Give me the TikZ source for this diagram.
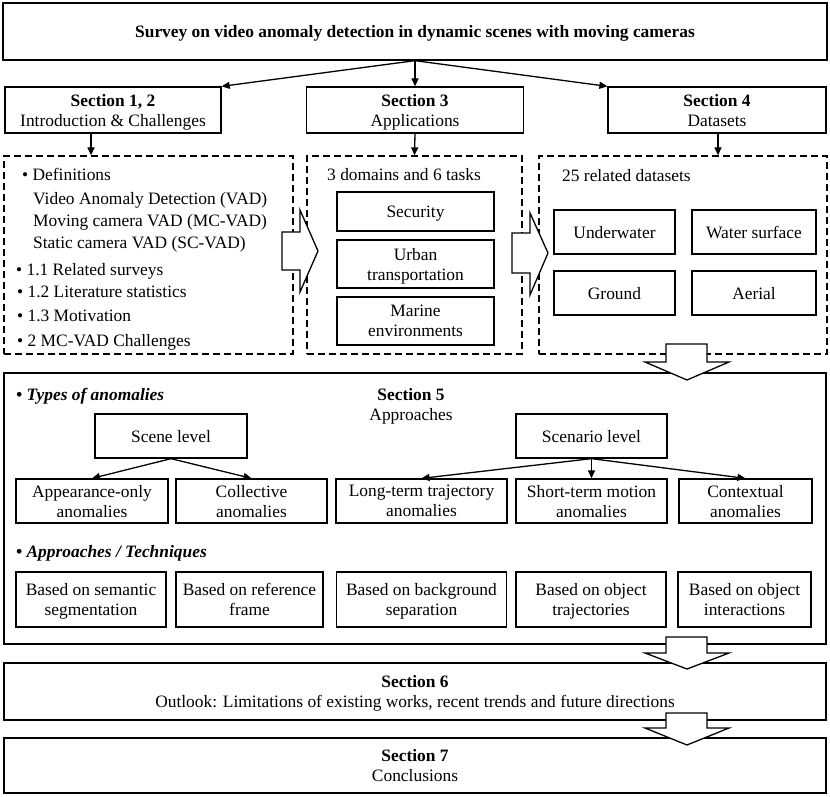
\documentclass[tikz,border=0pt]{standalone}
\usepackage{fontspec}
\setmainfont{Liberation Serif}
\usetikzlibrary{arrows.meta}
\begin{document}
\begin{tikzpicture}[x=1pt,y=-1pt,
  every node/.style={font=\fontsize{17.4}{20}\selectfont, inner sep=0pt, text depth=0pt},
  box/.style={draw, line width=1.3pt, align=center},
  dbox/.style={draw, line width=1.3pt, dash pattern=on 7pt off 4pt},
  arr/.style={line width=1.3pt, -{Triangle[length=8pt,width=7pt]}},
  barrow/.style={draw, fill=white, line width=1.3pt, line join=miter},
  txt/.style={anchor=west, align=left},
  head/.style={font=\fontsize{17.4}{20}\selectfont\bfseries\itshape, anchor=west}
]
\useasboundingbox (0,0) rectangle (830,797);

% top
\node[box, minimum width=824pt, minimum height=57pt] (top) at (415,31.5)
  {\textbf{Survey on video anomaly detection in dynamic scenes with moving cameras}};

\node[box, minimum width=216pt, minimum height=46pt] (s12) at (113,110)
  {\textbf{Section 1, 2}\\Introduction \& Challenges};
\node[box, minimum width=217pt, minimum height=46pt] (s3) at (415,110)
  {\textbf{Section 3}\\Applications};
\node[box, minimum width=218pt, minimum height=46pt] (s4) at (717,110)
  {\textbf{Section 4}\\Datasets};

\draw[arr] (top.south) -- (s12.north east);
\draw[arr] (top.south) -- (s3.north);
\draw[arr] (top.south) -- (s4.north west);

% dashed boxes
\node[dbox, minimum width=289pt, minimum height=198pt] (d1) at (148.5,255) {};
\node[dbox, minimum width=215pt, minimum height=198pt] (d2) at (414.5,255) {};
\node[dbox, minimum width=288pt, minimum height=198pt] (d3) at (683,255) {};

\coordinate (a1) at (91,0);
\coordinate (a3) at (718,0);
\draw[arr] (s12.south -| a1) -- (d1.north -| a1);
\draw[arr] (s3.south) -- (d2.north);
\draw[arr] (s4.south -| a3) -- (d3.north -| a3);

% box 1 contents
\node[txt] (l1) at (22,174) {• Definitions};
\node[txt] (l2) at (33,198) {Video Anomaly Detection (VAD)};
\node[txt] (l3) at (33,220) {Moving camera VAD (MC-VAD)};
\node[txt] (l4) at (33,242) {Static camera VAD (SC-VAD)};
\node[txt] (l5) at (16,269) {• 1.1 Related surveys};
\node[txt] (l6) at (17,292) {• 1.2 Literature statistics};
\node[txt] (l7) at (17,316) {• 1.3 Motivation};
\node[txt] (l8) at (17,340) {• 2 MC-VAD Challenges};

% box 2 contents
\node[txt] (dom) at (327,174) {3 domains and 6 tasks};
\node[box, minimum width=157pt, minimum height=39pt] (sec) at (415.5,211.5) {Security};
\node[box, minimum width=157pt, minimum height=48pt] (urb) at (415.5,264) {Urban\\transportation};
\node[box, minimum width=157pt, minimum height=48pt] (mar) at (415.5,321) {Marine\\environments};

% box 3 contents
\node[txt] (rel) at (562,175) {25 related datasets};
\node[box, minimum width=121pt, minimum height=44pt] (uw) at (614.5,232) {Underwater};
\node[box, minimum width=124pt, minimum height=44pt] (ws) at (754,232) {Water surface};
\node[box, minimum width=121pt, minimum height=44pt] (gr) at (614.5,293) {Ground};
\node[box, minimum width=124pt, minimum height=44pt] (ae) at (754,293) {Aerial};

% block arrows right
\draw[barrow] (282,232) -- (300,232) -- (300,210) -- (318,251) -- (300,292) -- (300,270) -- (282,270) -- cycle;
\draw[barrow] (512,233) -- (530,233) -- (530,213) -- (548,253) -- (530,295) -- (530,273) -- (512,273) -- cycle;

% section 5
\node[box, minimum width=822pt, minimum height=271pt] (s5) at (415,508.5) {};
\draw[barrow] (666,344) -- (707,344) -- (707,362) -- (729,362) -- (687,380) -- (645,362) -- (666,362) -- cycle;

\node[head] (types) at (16,394) {• Types of anomalies};
\node[align=center] (s5t) at (411,404) {\textbf{Section 5}\\Approaches};

\node[box, minimum width=152pt, minimum height=44pt] (scene) at (171,436) {Scene level};
\node[box, minimum width=151pt, minimum height=44pt] (scen) at (591.5,436) {Scenario level};

\node[box, minimum width=152pt, minimum height=44pt] (app) at (92,501) {Appearance-only\\anomalies};
\node[box, minimum width=151pt, minimum height=44pt] (col) at (251.5,501) {Collective\\anomalies};
\node[box, minimum width=171pt, minimum height=44pt] (lt) at (421.5,501) {Long-term trajectory\\anomalies};
\node[box, minimum width=151pt, minimum height=44pt] (st) at (591.5,501) {Short-term motion\\anomalies};
\node[box, minimum width=133pt, minimum height=44pt] (ctx) at (745.5,501) {Contextual\\anomalies};

\draw[arr] (scene.south) -- (app.north);
\draw[arr] (scene.south) -- (col.north);
\draw[arr] (scen.south) -- (lt.north);
\draw[arr] (scen.south) -- (st.north);
\draw[arr] (scen.south) -- (ctx.north);

\node[head] (tech) at (16,551) {• Approaches / Techniques};

\node[box, minimum width=150pt, minimum height=55pt] (b1) at (91,599.5) {Based on semantic\\segmentation};
\node[box, minimum width=147pt, minimum height=55pt] (b2) at (249.5,599.5) {Based on reference\\frame};
\node[box, minimum width=170pt, minimum height=55pt] (b3) at (421.5,599.5) {Based on background\\separation};
\node[box, minimum width=150pt, minimum height=55pt] (b4) at (591,599.5) {Based on object\\trajectories};
\node[box, minimum width=133pt, minimum height=55pt] (b5) at (744.5,599.5) {Based on object\\interactions};

% section 6, 7
\node[box, minimum width=822pt, minimum height=57pt] (s6) at (415,691.5)
  {\textbf{Section 6}\\Outlook: Limitations of existing works, recent trends and future directions};
\node[box, minimum width=822pt, minimum height=55pt] (s7) at (415,765.5)
  {\textbf{Section 7}\\Conclusions};

\draw[barrow] (666,637) -- (707,637) -- (707,653) -- (729,653) -- (687,669) -- (645,653) -- (666,653) -- cycle;
\draw[barrow] (666,713) -- (707,713) -- (707,728) -- (729,728) -- (687,745) -- (645,728) -- (666,728) -- cycle;
\end{tikzpicture}
\end{document}
